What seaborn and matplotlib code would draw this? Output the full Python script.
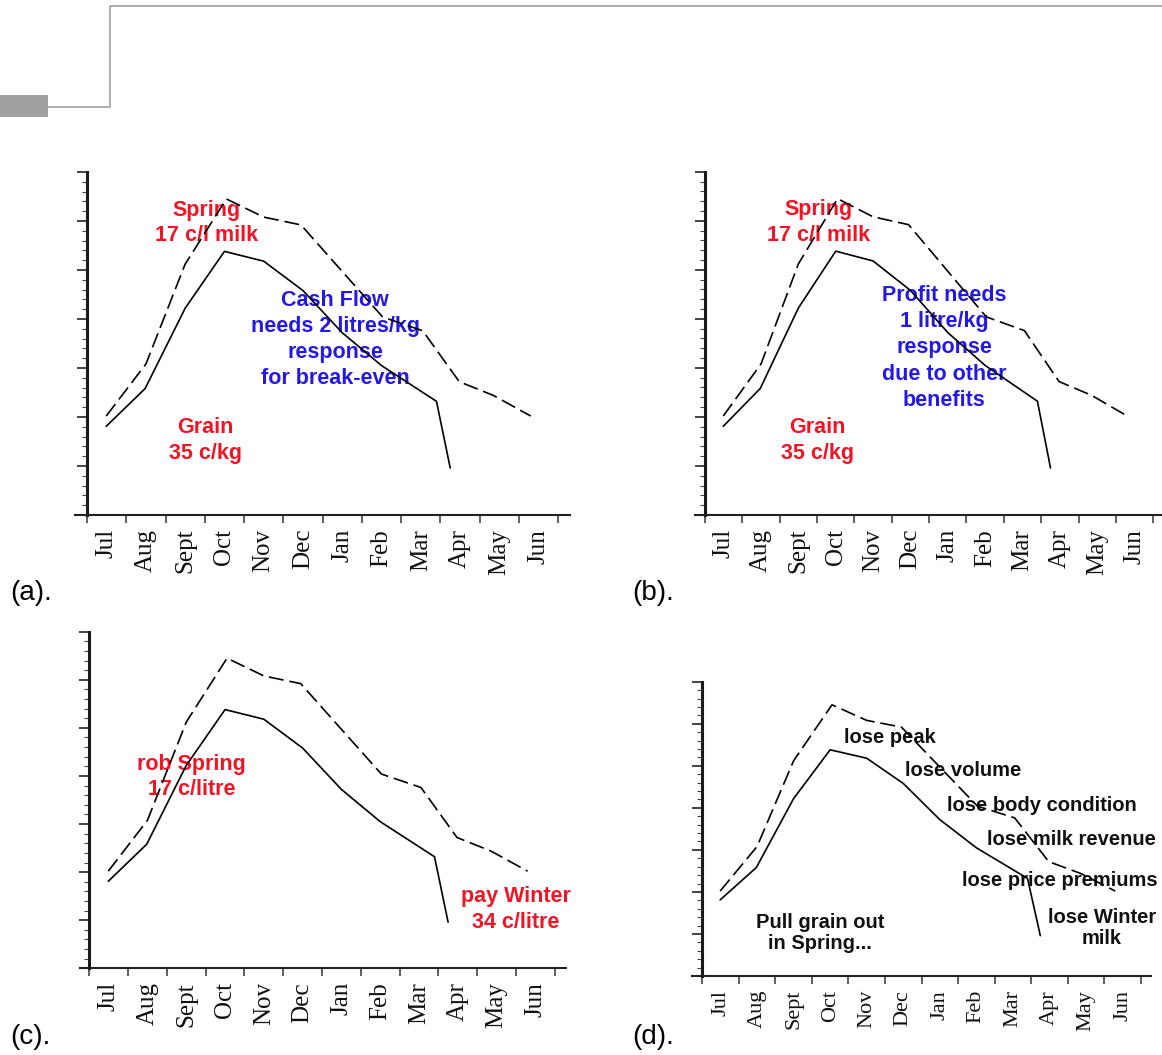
import numpy as np
import pandas as pd
import matplotlib
matplotlib.use("Agg")
import matplotlib.pyplot as plt
from matplotlib.lines import Line2D
from matplotlib.patches import Rectangle
import seaborn as sns

sns.set_style("ticks")
plt.rcParams['font.family'] = ['Liberation Sans', 'DejaVu Sans']

# Month labels along the lactation year
months = ["Jul", "Aug", "Sept", "Oct", "Nov", "Dec", "Jan", "Feb", "Mar", "Apr", "May", "Jun"]

# Milk curve with grain fed through Spring (dashed), position in months from 1 July
fed_x = [0.49, 1.5, 2.5, 3.55, 4.5, 5.45, 6.5, 7.53, 8.55, 9.48, 10.35, 11.3]
fed_y = [2.02, 3.08, 5.12, 6.45, 6.08, 5.92, 4.97, 4.04, 3.76, 2.72, 2.44, 2.02]

# Milk curve with grain pulled out in Spring (solid)
cut_x = [0.49, 1.48, 2.5, 3.5, 4.5, 5.5, 6.5, 7.5, 8.9, 9.25]
cut_y = [1.81, 2.58, 4.22, 5.38, 5.18, 4.58, 3.72, 3.05, 2.32, 0.96]

fed = pd.DataFrame({"month": fed_x, "milk": fed_y})
cut = pd.DataFrame({"month": cut_x, "milk": cut_y})

RED = "#F01525"
BLUE = "#2418E6"

W, H = 1162, 1055
fig = plt.figure(figsize=(W / 100, H / 100), dpi=100)


def add_px_axes(x0, x1, y_top, y_bottom):
    return fig.add_axes([x0 / W, 1 - y_bottom / H, (x1 - x0) / W, (y_bottom - y_top) / H])


def draw_panel(box, xlim, label_size):
    ax = add_px_axes(*box)
    ax.set_facecolor("none")
    sns.lineplot(data=cut, x="month", y="milk", ax=ax, color="black",
                 linewidth=1.2, sort=False, estimator=None, zorder=4)
    sns.lineplot(data=fed, x="month", y="milk", ax=ax, color="black",
                 linewidth=1.2, sort=False, estimator=None, zorder=4,
                 dashes=False)
    ax.lines[-1].set_linestyle((0, (9, 3.5)))
    ax.set_xlim(*xlim)
    ax.set_ylim(0, 7)
    ax.set_xlabel("")
    ax.set_ylabel("")
    for s in ("top", "right"):
        ax.spines[s].set_visible(False)
    ax.spines["left"].set_position(("data", 0))
    ax.spines["left"].set_linewidth(2.2)
    ax.spines["left"].set_color("#1a1a1a")
    ax.spines["bottom"].set_linewidth(1.5)
    ax.spines["bottom"].set_color("#222222")

    ax.set_xticks(np.arange(13))
    ax.set_xticklabels([])
    ax.set_xticks(np.arange(12) + 0.5, minor=True)
    ax.set_xticklabels(months, minor=True, rotation=90,
                       fontfamily="Liberation Serif", fontsize=label_size,
                       color="#111111")
    ax.tick_params(axis="x", which="major", direction="out", length=6,
                   width=1.1, color="#333333", bottom=True)
    ax.tick_params(axis="x", which="minor", length=0, pad=10, bottom=True)

    ax.set_yticks(np.arange(1, 8))
    ax.set_yticklabels([])
    ax.set_yticks(np.arange(0, 7.01, 0.2), minor=True)
    ax.tick_params(axis="y", which="major", direction="out", length=7,
                   width=1.2, color="#222222", left=True)
    ax.tick_params(axis="y", which="minor", direction="out", length=3.5,
                   width=0.8, color="#444444", left=True)
    return ax


def note(ax, x, y, s, color, size=15.5, spacing=1.3):
    ax.text(x, y, s, color=color, fontsize=size, fontweight="bold",
            ha="center", va="center", linespacing=spacing, zorder=1)


# (a) cash flow
ax_a = draw_panel((75.2, 570, 172, 515), (-0.3, 12.3), 18)
note(ax_a, 3.05, 5.96, "Spring\n17 c/l milk", RED)
note(ax_a, 3.02, 1.52, "Grain\n35 c/kg", RED)
note(ax_a, 6.32, 3.58, "Cash Flow\nneeds 2 litres/kg\nresponse\nfor break-even", BLUE, spacing=1.33)

# (b) profit
ax_b = draw_panel((694.9, 1162.2, 171.7, 515), (-0.27, 12.24), 18)
note(ax_b, 3.05, 5.96, "Spring\n17 c/l milk", RED)
note(ax_b, 3.02, 1.52, "Grain\n35 c/kg", RED)
note(ax_b, 6.41, 3.41, "Profit needs\n1 litre/kg\nresponse\ndue to other\nbenefits", BLUE, spacing=1.33)

# (c) robbing Spring to pay Winter
ax_c = draw_panel((80, 566, 631.7, 968.3), (-0.24, 12.29), 18)
note(ax_c, 2.64, 3.98, "rob Spring\n17 c/litre", RED)
note(ax_c, 10.99, 1.22, "pay Winter\n34 c/litre", RED)

# (d) what is lost
ax_d = draw_panel((692, 1150.7, 681.7, 976), (-0.28, 12.27), 16)
K = "#111111"
note(ax_d, 5.14, 5.68, "lose peak", K, size=14.5)
note(ax_d, 7.14, 4.88, "lose volume", K, size=14.5)
note(ax_d, 9.29, 4.05, "lose body condition", K, size=14.5)
note(ax_d, 10.11, 3.24, "lose milk revenue", K, size=14.5)
note(ax_d, 9.79, 2.28, "lose price premiums", K, size=14.5)
note(ax_d, 10.93, 1.14, "lose Winter\nmilk", K, size=14.5, spacing=1.16)
note(ax_d, 3.22, 1.02, "Pull grain out\nin Spring...", K, size=14.5, spacing=1.16)

# Panel letters
for (px, py, s) in [(10, 593, "(a)."), (632, 593, "(b)."), (10, 1037, "(c)."), (632, 1037, "(d).")]:
    fig.text(px / W, 1 - py / H, s, fontsize=20, ha="left", va="center", color="black")

# Page header rule and tab
hx = np.array([48, 110, 110, 1162]) / W
hy = 1 - np.array([107, 107, 6, 6]) / H
fig.add_artist(Line2D(hx, hy, transform=fig.transFigure, color="#A8A8A8", linewidth=1.3))
fig.add_artist(Rectangle((0, 1 - 117 / H), 48 / W, 22 / H, transform=fig.transFigure,
                         facecolor="#A0A0A0", edgecolor="none"))

fig.savefig("out.png", dpi=100, facecolor="white")
